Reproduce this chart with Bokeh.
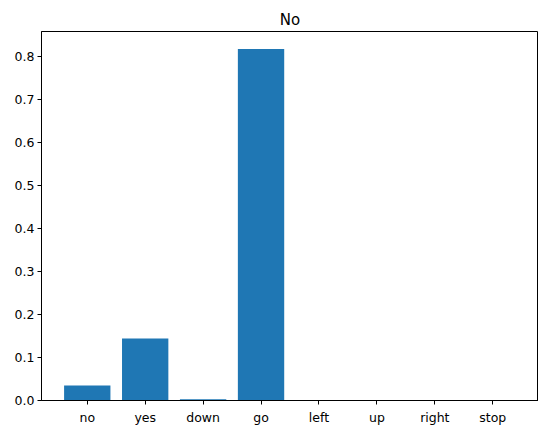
from bokeh.plotting import figure
from bokeh.models import Range1d, FixedTicker, ColumnDataSource
from bokeh.embed import file_html
from bokeh.resources import INLINE

categories = ["no", "yes", "down", "go", "left", "up", "right", "stop"]
values = [0.035, 0.144, 0.003, 0.817, 0.0005, 0.0003, 0.0003, 0.0003]
y_ticks = [0.0, 0.1, 0.2, 0.3, 0.4, 0.5, 0.6, 0.7, 0.8]

xs = list(range(len(categories)))
src = ColumnDataSource(dict(x=xs, top=values, cat=categories))

p = figure(frame_width=497, frame_height=369, output_backend="svg", toolbar_location=None,
           x_range=Range1d(-0.79, len(categories) - 1 + 0.79),
           y_range=Range1d(0, max(values) * 1.05),
           min_border_left=41, min_border_right=0, min_border_top=31, min_border_bottom=26,
           title="No")
p.vbar(x="x", top="top", width=0.8, bottom=0, source=src, color="#1f77b4", line_color=None)

p.title.align = "center"
p.title.text_font = "DejaVu Sans"
p.title.text_font_size = "15px"
p.title.text_font_style = "normal"
p.title.text_color = "black"
p.title.standoff = 6

p.xgrid.visible = False
p.ygrid.visible = False
p.outline_line_color = "black"
p.outline_line_width = 1

p.xaxis.ticker = FixedTicker(ticks=xs)
p.xaxis.major_label_overrides = {i: c for i, c in enumerate(categories)}
p.yaxis.ticker = FixedTicker(ticks=y_ticks)
p.yaxis.major_label_overrides = {t: f"{t:.1f}" for t in y_ticks}
for ax in (p.xaxis[0], p.yaxis[0]):
    ax.axis_line_color = "black"
    ax.major_tick_line_color = "black"
    ax.major_tick_out = 4
    ax.major_tick_in = 0
    ax.minor_tick_line_color = None
    ax.major_label_text_font = "DejaVu Sans"
    ax.major_label_text_font_size = "12.5px"
    ax.major_label_text_color = "black"
    ax.major_label_standoff = 5
p.yaxis.major_label_standoff = 3

open("out.html", "w").write(file_html(p, INLINE))
